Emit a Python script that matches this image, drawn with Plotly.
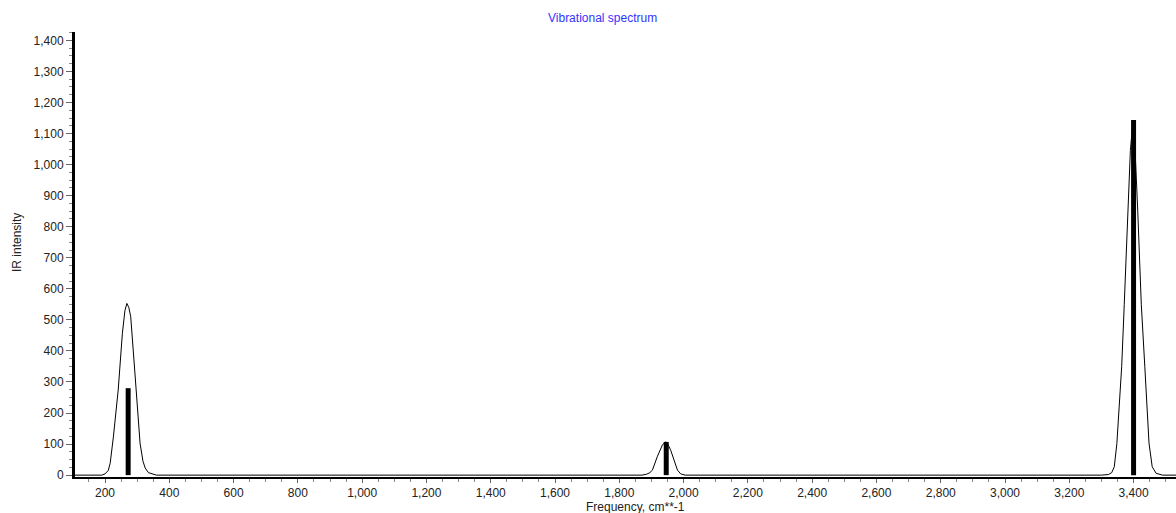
import plotly.graph_objects as go

# Broadened spectrum
curve_x = [100,
           190, 200, 210, 216, 226, 241, 254, 262, 268, 274, 280, 293, 309, 318, 325, 335, 350, 360,
           1870, 1885, 1895, 1903, 1918, 1934, 1943, 1950, 1960, 1970, 1981, 1991, 2005,
           3300, 3322, 3332, 3340, 3348, 3355, 3363, 3371, 3382, 3390, 3398, 3406, 3413, 3424, 3435,
           3442, 3448, 3458, 3470, 3490,
           3540]
curve_y = [0,
           0, 4, 15, 38, 123, 274, 457, 530, 553, 540, 510, 329, 103, 45, 23, 8, 2, 0,
           0, 3, 8, 16, 59, 97, 107, 102, 80, 48, 16, 4, 0,
           0, 2, 8, 27, 102, 220, 349, 550, 850, 1045, 1140, 1015, 850, 550, 349,
           210, 103, 27, 6, 0,
           0]

# Stick spectrum
stick_freq = [272, 1946, 3400]
stick_int = [280, 107, 1144]

FONT = "Liberation Sans, Arial, sans-serif"
W, H = 1176, 513
L, R, T, B = 75, 0, 32, 36

fig = go.Figure()
fig.add_trace(go.Scatter(x=curve_x, y=curve_y, mode="lines",
                         line=dict(color="black", width=1), hoverinfo="skip"))
fig.add_trace(go.Bar(x=stick_freq, y=stick_int, width=15.5,
                     marker=dict(color="black", line=dict(width=0))))

fig.update_layout(
    width=W, height=H,
    margin=dict(l=L, r=R, t=T, b=B, pad=0),
    paper_bgcolor="white", plot_bgcolor="white",
    showlegend=False,
    font=dict(family=FONT, size=12, color="#222222"),
    xaxis=dict(range=[106.6, 3532], tickmode="linear", tick0=0, dtick=200,
               tickformat=",d", showgrid=False, zeroline=False,
               showline=True, linecolor="black", linewidth=2,
               ticks="outside", ticklen=4, tickcolor="#666666", tickwidth=1,
               minor=dict(dtick=50, tick0=0, ticks="outside", ticklen=3,
                          tickcolor="#888888", showgrid=False),
               tickfont=dict(family=FONT, size=12, color="#222222")),
    yaxis=dict(range=[-6, 1427], tickmode="linear", tick0=0, dtick=100,
               tickformat=",d", showgrid=False, zeroline=False,
               showline=True, linecolor="black", linewidth=3,
               ticks="outside", ticklen=6, tickcolor="#666666", tickwidth=1,
               minor=dict(dtick=25, tick0=0, ticks="outside", ticklen=3,
                          tickcolor="#888888", showgrid=False),
               tickfont=dict(family=FONT, size=12, color="#222222")),
    annotations=[
        dict(text="Vibrational spectrum", xref="paper", yref="paper",
             x=(602.5 - L) / (W - L - R), y=1 + (T - 18) / (H - T - B),
             xanchor="center", yanchor="middle", showarrow=False,
             font=dict(family=FONT, size=12, color="#3333ff")),
        dict(text="Frequency, cm**-1", xref="paper", yref="paper",
             x=(635 - L) / (W - L - R), y=-(507 - (H - B)) / (H - T - B),
             xanchor="center", yanchor="middle", showarrow=False,
             font=dict(family=FONT, size=12, color="#222222")),
        dict(text="IR intensity", xref="paper", yref="paper",
             x=-(L - 17) / (W - L - R), y=1 - (243 - T) / (H - T - B),
             xanchor="center", yanchor="middle", showarrow=False, textangle=-90,
             font=dict(family=FONT, size=12, color="#222222")),
    ],
)

fig.write_html("out.html")
